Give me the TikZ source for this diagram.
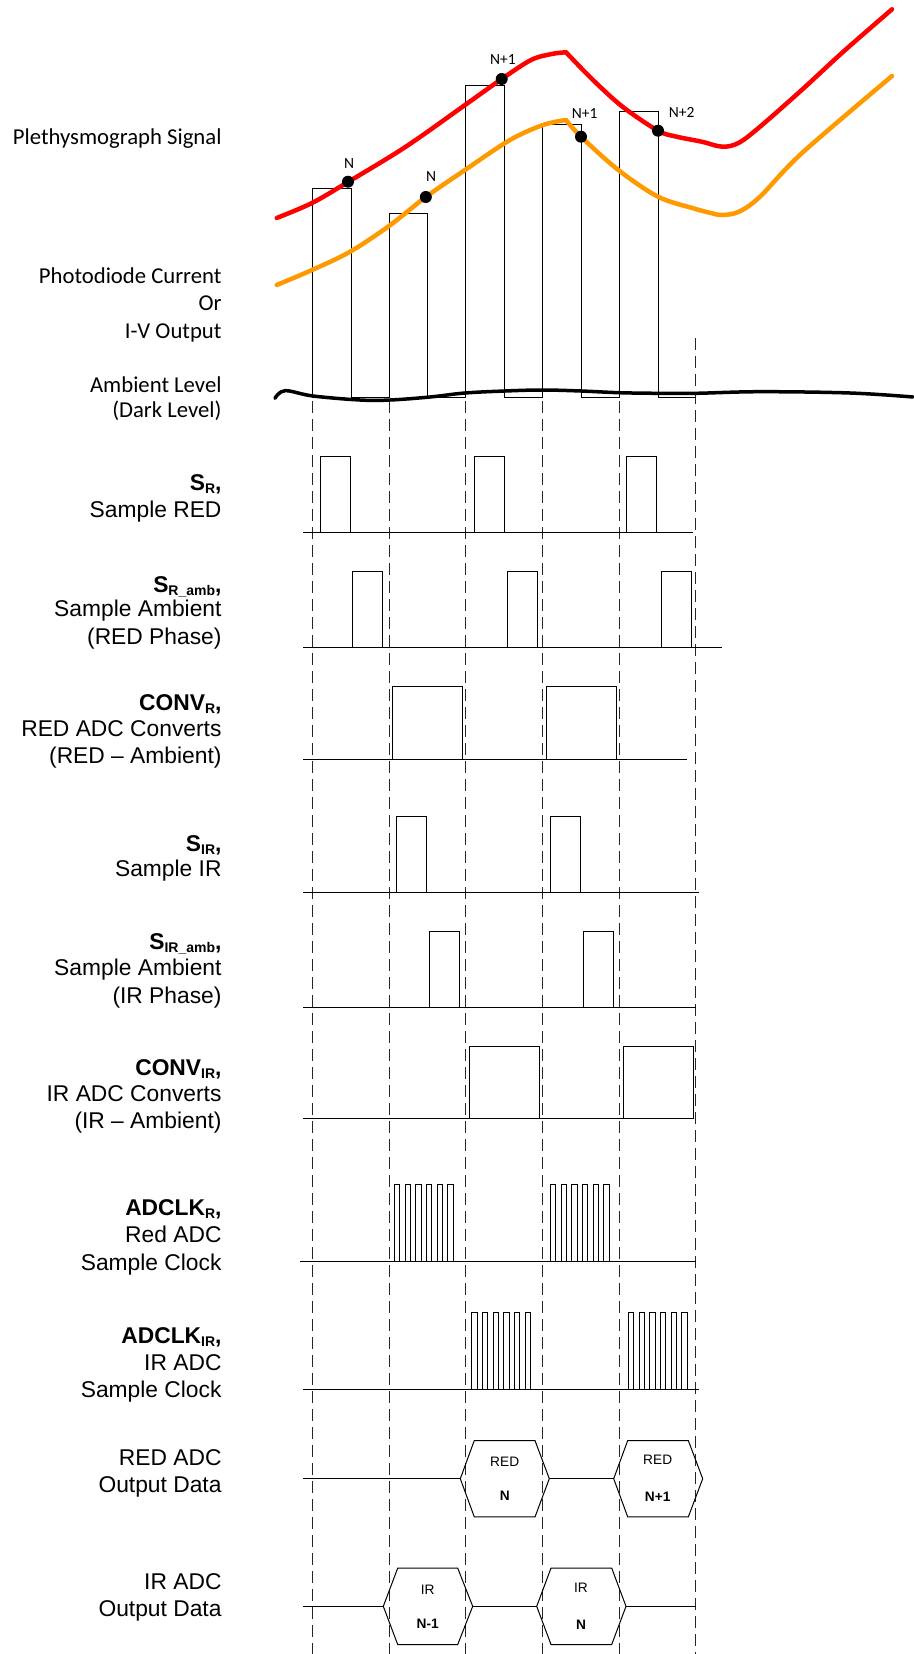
\documentclass[tikz,border=0pt]{standalone}
\usepackage{fontspec}
\setmainfont{Liberation Sans}
\newfontfamily\calfont{Carlito}
\definecolor{sigred}{RGB}{255,0,0}
\definecolor{sigorange}{RGB}{255,153,0}
\newcommand\signame[2]{\textbf{#1}\raisebox{-3pt}{\fontsize{14}{16}\selectfont\bfseries #2}\textbf{,}}
\newcommand\pulse[4]{\draw[wave] (#1,#3) -- (#1,#4) -- (#2,#4) -- (#2,#3);}
\newcommand\burst[3]{\foreach \k in {0,...,5}{\pgfmathsetmacro\xa{#1+\k*10.7}\pgfmathsetmacro\xb{\xa+5.3}\draw[wave] (\xa,#2)--(\xa,#3)--(\xb,#3)--(\xb,#2);}}
\newcommand\hexa[5]{\draw[wave] (#1,#5) -- (#2,{#5-38.2}) -- (#3,{#5-38.2}) -- (#4,#5) -- (#3,{#5+38.2}) -- (#2,{#5+38.2}) -- cycle;}
\begin{document}
\begin{tikzpicture}[x=1pt,y=-1pt,
  lbl/.style={anchor=base east,inner sep=0pt,font=\fontsize{22.8}{26}\selectfont},
  toplbl/.style={anchor=base east,inner sep=0pt,font=\calfont\fontsize{22.7}{26}\selectfont},
  curvelbl/.style={anchor=base,inner sep=0pt,font=\calfont\fontsize{15.5}{18}\selectfont},
  hextxt/.style={anchor=base,inner sep=0pt,font=\fontsize{13.7}{16}\selectfont},
  hexnum/.style={anchor=base,inner sep=0pt,font=\fontsize{13.7}{16}\selectfont\bfseries},
  wave/.style={line width=1pt,line join=miter},
  guide/.style={line width=0.9pt,dash pattern=on 12pt off 6pt,black!85},
  sig/.style={line width=4.5pt,line cap=round,line join=round},
  dot/.style={fill=black}]
\useasboundingbox (0,0) rectangle (913,1654);

% guide lines
\foreach \x in {312.3,389,465.7,542.3,619}{\draw[guide] (\x,401) -- (\x,1654);}
\draw[guide] (695.7,338) -- (695.7,1654);

% photodiode pulse train
\draw[wave] (312.3,397.5) -- (312.3,188) -- (351,188) -- (351,397.5) -- (389,397.5)
  -- (389,213) -- (427.5,213) -- (427.5,397.5) -- (465.3,397.5)
  -- (465.3,85.7) -- (504.6,85.7) -- (504.6,397.5) -- (542.5,397.5)
  -- (542.5,124) -- (581,124) -- (581,397.5) -- (619,397.5)
  -- (619,111) -- (658,111) -- (658,397.5) -- (695.7,397.5);

% plethysmograph curves
\draw[sig,sigred] plot[smooth,tension=0.55] coordinates {(276.7,218) (312,203) (348,182) (405.8,146.7) (465,105) (501.7,79) (531,60) (551.7,54) (566,52.3)};
\draw[sig,sigred] plot[smooth,tension=0.55] coordinates {(566,52.3) (593,80) (622.5,106.7) (658,130.7) (676.7,136.7) (701.7,141.7) (722.5,146.7) (739,142.7) (760,126.7) (801.7,90) (843.3,51.7) (892,9.3)};
\draw[sig,sigorange] plot[smooth,tension=0.55] coordinates {(276.7,285) (312,270) (349.6,252) (389,226) (425.8,197) (465,170) (510,140) (543,125) (566,120)};
\draw[sig,sigorange] plot[smooth,tension=0.55] coordinates {(566,120) (581,136.7) (618.3,170) (658,196.7) (693.3,208.3) (712,213.3) (722.5,215) (739,211.7) (760,196.7) (801.7,153.3) (892,76)};

% sample dots
\fill[dot] (348,181.7) circle (6pt);
\fill[dot] (425.8,197) circle (6pt);
\fill[dot] (501.7,79) circle (6pt);
\fill[dot] (581,136.7) circle (6pt);
\fill[dot] (658,130.7) circle (6pt);
\node[curvelbl] (lN1) at (349,168.3) {N};
\node[curvelbl] (lN2) at (431,181.7) {N};
\node[curvelbl] (lN3) at (503,64) {N+1};
\node[curvelbl] (lN4) at (584.6,118.3) {N+1};
\node[curvelbl] (lN5) at (681.7,117.3) {N+2};

% ambient level
\draw[line width=3.5pt,line cap=round] plot[smooth,tension=0.6] coordinates {(275,398.3) (285,390.7) (313,396) (360,400) (390,400) (430,397) (465,393) (505,391) (542,390) (581,391) (619,392.7) (658,393.3) (696,393.3) (760,391.7) (850,393) (913,397)};

% S_R
\draw[wave] (303.3,532.7) -- (693.3,532.7);
\pulse{320}{350}{532.7}{456}
\pulse{474}{504}{532.7}{456}
\pulse{626}{656.7}{532.7}{456}
% S_R_amb
\draw[wave] (303.3,647.7) -- (721.7,647.7);
\pulse{352.7}{382.7}{647.7}{571}
\pulse{507}{537}{647.7}{571}
\pulse{661.3}{691.7}{647.7}{571}
% CONV_R
\draw[wave] (303.3,759) -- (687.3,759);
\pulse{392.3}{462.7}{759}{686}
\pulse{546.7}{616.7}{759}{686}
% S_IR
\draw[wave] (303.3,892.3) -- (699,892.3);
\pulse{396.3}{426.7}{892.3}{816}
\pulse{550.3}{580.7}{892.3}{816}
% S_IR_amb
\draw[wave] (303.3,1007.3) -- (695.7,1007.3);
\pulse{429.3}{459.7}{1007.3}{931}
\pulse{583.3}{613.7}{1007.3}{931}
% CONV_IR
\draw[wave] (303.3,1118.7) -- (693.3,1118.7);
\pulse{469}{539.3}{1118.7}{1046}
\pulse{623.3}{693.3}{1118.7}{1046}
% ADCLK_R
\draw[wave] (300,1261) -- (695.7,1261);
\burst{394.3}{1261}{1184.3}
\burst{550.3}{1261}{1184.3}
% ADCLK_IR
\draw[wave] (303.3,1389) -- (699,1389);
\burst{471.7}{1389}{1312.3}
\burst{628.3}{1389}{1312.3}

% RED ADC output data
\draw[wave] (303.3,1478.7) -- (460.3,1478.7);
\draw[wave] (549.3,1478.7) -- (613.7,1478.7);
\hexa{460.3}{474.3}{535}{549.3}{1478.7}
\hexa{613.7}{627.7}{688.3}{702.7}{1478.7}
\node[hextxt] (r1a) at (504.7,1466) {RED};
\node[hexnum] (r1b) at (504.7,1500) {N};
\node[hextxt] (r2a) at (657.7,1464.3) {RED};
\node[hexnum] (r2b) at (657.7,1501) {N+1};

% IR ADC output data
\draw[wave] (303.3,1606.3) -- (383.3,1606.3);
\draw[wave] (472.7,1606.3) -- (536.7,1606.3);
\draw[wave] (626,1606.3) -- (695.7,1606.3);
\hexa{383.3}{397.7}{457.7}{472.7}{1606.3}
\hexa{536.7}{551}{611.7}{626}{1606.3}
\node[hextxt] (i1a) at (427.7,1594.7) {IR};
\node[hexnum] (i1b) at (427.7,1628.3) {N-1};
\node[hextxt] (i2a) at (581,1592.7) {IR};
\node[hexnum] (i2b) at (581,1629) {N};

% left labels (top)
\node[toplbl] (t1) at (221.7,144) {Plethysmograph Signal};
\node[toplbl] (t2) at (221.7,283.3) {Photodiode Current};
\node[toplbl] (t3) at (221.7,310.7) {Or};
\node[toplbl] (t4) at (221.7,338) {I-V Output};
\node[toplbl] (t5) at (221.7,392) {Ambient Level};
\node[toplbl] (t6) at (221.7,417.3) {(Dark Level)};

% left labels (signals)
\node[lbl] (a1) at (221.7,490) {\signame{S}{R}};
\node[lbl] (a2) at (221.7,517.7) {Sample RED};
\node[lbl] (b1) at (221.7,592.7) {\signame{S}{R\_amb}};
\node[lbl] (b2) at (221.7,616.7) {Sample Ambient};
\node[lbl] (b3) at (221.7,644) {(RED Phase)};
\node[lbl] (c1) at (221.7,710.7) {\signame{CONV}{R}};
\node[lbl] (c2) at (221.7,736) {RED ADC Converts};
\node[lbl] (c3) at (221.7,763.3) {(RED – Ambient)};
\node[lbl] (d1) at (221.7,851) {\signame{S}{IR}};
\node[lbl] (d2) at (221.7,876.7) {Sample IR};
\node[lbl] (e1) at (221.7,949.3) {\signame{S}{IR\_amb}};
\node[lbl] (e2) at (221.7,975.7) {Sample Ambient};
\node[lbl] (e3) at (221.7,1003.3) {(IR Phase)};
\node[lbl] (f1) at (221.7,1075) {\signame{CONV}{IR}};
\node[lbl] (f2) at (221.7,1101.7) {IR ADC Converts};
\node[lbl] (f3) at (221.7,1128.5) {(IR – Ambient)};
\node[lbl] (g1) at (221.7,1215) {\signame{ADCLK}{R}};
\node[lbl] (g2) at (221.7,1242.7) {Red ADC};
\node[lbl] (g3) at (221.7,1270) {Sample Clock};
\node[lbl] (h1) at (221.7,1343.3) {\signame{ADCLK}{IR}};
\node[lbl] (h2) at (221.7,1370) {IR ADC};
\node[lbl] (h3) at (221.7,1397) {Sample Clock};
\node[lbl] (j1) at (221.7,1465) {RED ADC};
\node[lbl] (j2) at (221.7,1492.7) {Output Data};
\node[lbl] (k1) at (221.7,1589.3) {IR ADC};
\node[lbl] (k2) at (221.7,1616.7) {Output Data};
\end{tikzpicture}
\end{document}
